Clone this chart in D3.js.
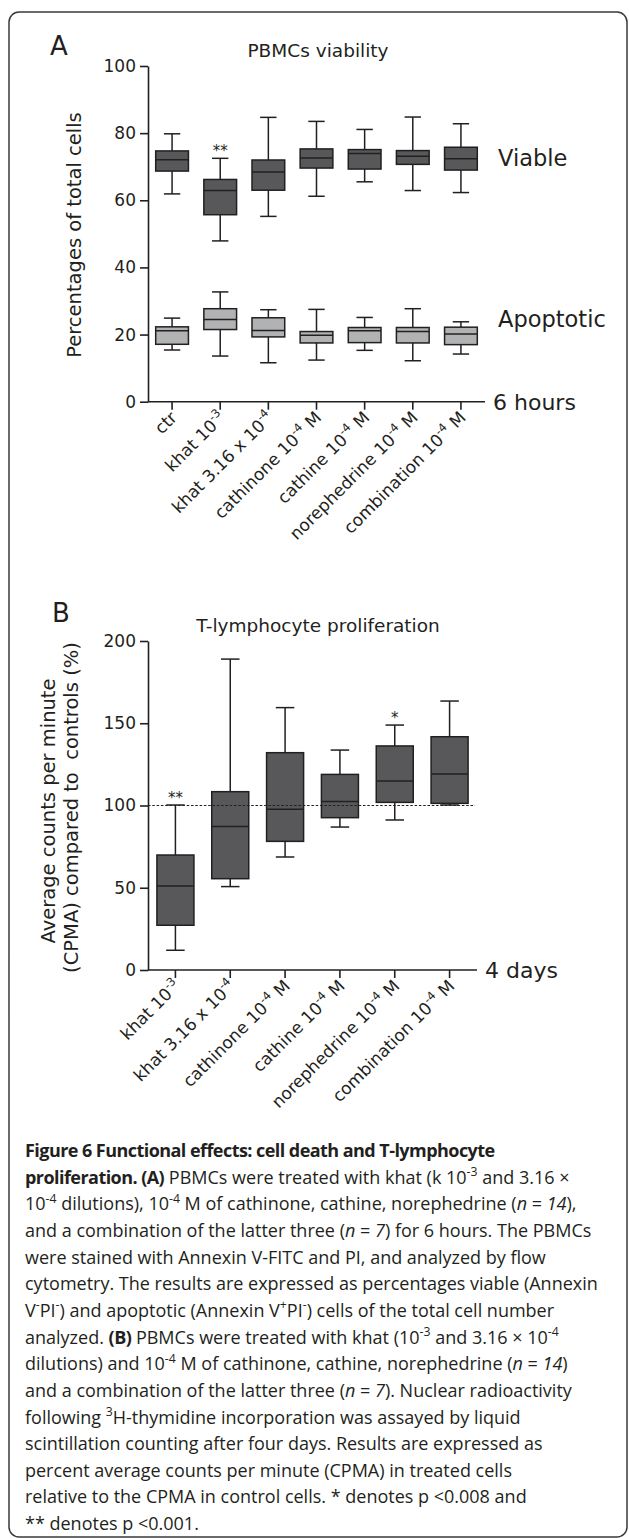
<!DOCTYPE html>
<html>
<head>
<meta charset="utf-8">
<script src="https://cdn.jsdelivr.net/npm/d3@7"></script>
<style>
  body { margin: 0; background: #fff; }
  svg { display: block; }
</style>
</head>
<body>
<svg id="fig"></svg>
<script>
const W = 629, H = 1538;
const ink = "#231f20";
const chartFont = "'DejaVu Sans', sans-serif";
const captionFont = "'Open Sans', sans-serif";

// categories ({s:..} = superscript)
const groupsA = ["ctr", "khat 10{s:-3}", "khat 3.16 x 10{s:-4}", "cathinone 10{s:-4} M",
  "cathine 10{s:-4} M", "norephedrine 10{s:-4} M", "combination 10{s:-4} M"];
const groupsB = groupsA.slice(1);

// box values: [min, q1, median, q3, max]
const viable = [
  [61.9, 68.7, 72.1, 74.7, 79.8],
  [47.9, 55.7, 62.9, 66.2, 72.5],
  [55.2, 63.0, 68.4, 72.0, 84.7],
  [61.2, 69.6, 72.6, 75.3, 83.5],
  [65.5, 69.3, 73.9, 75.1, 81.1],
  [62.9, 70.7, 73.1, 74.8, 84.8],
  [62.3, 69.0, 72.4, 75.8, 82.8]
];
const apoptotic = [
  [15.4, 17.1, 21.1, 22.3, 24.9],
  [13.6, 21.5, 24.5, 27.7, 32.7],
  [11.6, 19.3, 21.2, 25.0, 27.4],
  [12.4, 17.5, 19.8, 20.9, 27.5],
  [15.3, 17.6, 21.1, 22.1, 25.1],
  [12.2, 17.5, 20.9, 22.1, 27.7],
  [14.2, 17.0, 20.2, 22.2, 23.8]
];
const prolif = [
  [12.0, 27.2, 51.1, 69.9, 100.3],
  [50.7, 55.5, 87.3, 108.4, 189.0],
  [68.7, 78.2, 97.7, 132.1, 159.5],
  [86.9, 92.6, 102.5, 118.9, 133.7],
  [91.2, 101.9, 114.9, 136.2, 148.9],
  [100.3, 101.3, 119.1, 141.8, 163.5]
];
const sigA = ["", "**", "", "", "", "", ""];
const sigB = ["**", "", "", "", "*", ""];
const ticksA = [0, 20, 40, 60, 80, 100];
const ticksB = [0, 50, 100, 150, 200];

const captionLines = [
  "{b:Figure 6 Functional effects: cell death and T-lymphocyte}",
  "{b:proliferation. (A)} PBMCs were treated with khat (k 10{s:-3} and 3.16 ×",
  "10{s:-4} dilutions), 10{s:-4} M of cathinone, cathine, norephedrine ({i:n} = {i:14}),",
  "and a combination of the latter three ({i:n} = {i:7}) for 6 hours. The PBMCs",
  "were stained with Annexin V-FITC and PI, and analyzed by flow",
  "cytometry. The results are expressed as percentages viable (Annexin",
  "V{s:-}PI{s:-}) and apoptotic (Annexin V{s:+}PI{s:-}) cells of the total cell number",
  "analyzed. {b:(B)} PBMCs were treated with khat (10{s:-3} and 3.16 × 10{s:-4}",
  "dilutions) and 10{s:-4} M of cathinone, cathine, norephedrine ({i:n} = {i:14})",
  "and a combination of the latter three ({i:n} = {i:7}). Nuclear radioactivity",
  "following {s:3}H-thymidine incorporation was assayed by liquid",
  "scintillation counting after four days. Results are expressed as",
  "percent average counts per minute (CPMA) in treated cells",
  "relative to the CPMA in control cells. * denotes p <0.008 and",
  "** denotes p <0.001."
];

const svg = d3.select("#fig").attr("width", W).attr("height", H);

// frame
svg.append("rect")
  .attr("x", 9).attr("y", 12)
  .attr("width", 618).attr("height", 1525)
  .attr("rx", 10)
  .attr("fill", "none")
  .attr("stroke", "#3a3a3a")
  .attr("stroke-width", 1.5);

// text with {b:}, {i:}, {s:} markup
function rich(sel, str, fs, boldSpacing) {
  const re = /\{([bis]):([^}]*)\}|([^{]+)/g;
  let m, raised = false;
  while ((m = re.exec(str))) {
    const kind = m[1] || "n";
    const t = sel.append("tspan").text(m[1] ? m[2] : m[3]);
    if (kind === "s") {
      t.attr("dy", raised ? 0 : -0.42 * fs).style("font-size", (0.68 * fs) + "px");
      raised = true;
    } else {
      if (raised) { t.attr("dy", 0.42 * fs); raised = false; }
      if (kind === "b") {
        t.style("font-weight", "bold");
        if (boldSpacing) t.style("letter-spacing", boldSpacing + "px");
      }
      if (kind === "i") t.style("font-style", "italic");
    }
  }
}

function panel(cfg) {
  const g = svg.append("g").style("font-family", chartFont).attr("fill", ink);

  const x = d3.scaleBand().domain(cfg.groups).range(cfg.xr)
    .paddingInner(cfg.pad).paddingOuter(cfg.pad / 2);
  const y = d3.scaleLinear().domain(cfg.domain).range(cfg.yr);
  const bw = x.bandwidth();

  // y axis
  const ya = g.append("g")
    .attr("transform", `translate(${cfg.xr[0]},0)`)
    .call(d3.axisLeft(y).tickValues(cfg.ticks).tickSize(8).tickSizeOuter(0).tickPadding(4));
  ya.selectAll("text").style("font-size", "17px").style("font-family", chartFont).attr("fill", ink);

  // x axis
  const xa = g.append("g")
    .attr("transform", `translate(0,${cfg.yr[0]})`)
    .call(d3.axisBottom(x).tickSize(8).tickSizeOuter(0));
  xa.selectAll(".tick text").remove();
  xa.selectAll(".tick").append("text")
    .attr("transform", "translate(6,17) rotate(-45)")
    .attr("text-anchor", "end")
    .attr("fill", ink)
    .style("font-size", "17px")
    .style("font-family", chartFont)
    .each(function (d) { rich(d3.select(this), d, 17); });

  [ya, xa].forEach(a => {
    a.select(".domain").attr("stroke", ink).attr("stroke-width", 1.6);
    a.selectAll(".tick line").attr("stroke", ink).attr("stroke-width", 1.6);
  });
  xa.select(".domain").attr("d", `M${cfg.xr[0]},0H${cfg.xr[1]}`);

  // boxes
  cfg.series.forEach(s => {
    const bx = g.append("g").selectAll("g").data(s.data).join("g")
      .attr("transform", (d, i) => `translate(${x(cfg.groups[i]) + bw / 2},0)`);
    bx.append("line")
      .attr("y1", d => y(d[0])).attr("y2", d => y(d[4]))
      .attr("stroke", ink).attr("stroke-width", 1.5);
    [0, 4].forEach(k => {
      bx.append("line")
        .attr("x1", -bw / 4).attr("x2", bw / 4)
        .attr("y1", d => y(d[k])).attr("y2", d => y(d[k]))
        .attr("stroke", ink).attr("stroke-width", 1.5);
    });
    bx.append("rect")
      .attr("x", -bw / 2).attr("width", bw)
      .attr("y", d => y(d[3])).attr("height", d => y(d[1]) - y(d[3]))
      .attr("fill", s.fill).attr("stroke", ink).attr("stroke-width", 1.5);
    bx.append("line")
      .attr("x1", -bw / 2).attr("x2", bw / 2)
      .attr("y1", d => y(d[2])).attr("y2", d => y(d[2]))
      .attr("stroke", ink).attr("stroke-width", 1.5);
    if (s.label) {
      g.append("text")
        .attr("x", cfg.xr[1] + 13)
        .attr("y", y(s.labelAt))
        .style("font-size", "22.5px")
        .text(s.label);
    }
    if (s.sig) {
      bx.append("text")
        .attr("text-anchor", "middle")
        .attr("y", d => y(d[4]) - 2.5)
        .style("font-size", "15px")
        .text((d, i) => s.sig[i]);
    }
  });

  // reference line
  if (cfg.ref != null) {
    g.append("line")
      .attr("x1", cfg.xr[0]).attr("x2", cfg.xr[1] - 2)
      .attr("y1", y(cfg.ref)).attr("y2", y(cfg.ref))
      .attr("stroke", ink).attr("stroke-width", 1.2)
      .attr("stroke-dasharray", "2.5,1.8");
  }

  // titles and labels
  g.append("text").attr("x", cfg.letterPos[0]).attr("y", cfg.letterPos[1])
    .style("font-size", "26px").text(cfg.letter);
  g.append("text").attr("x", 318).attr("y", cfg.titleY)
    .attr("text-anchor", "middle").style("font-size", "18.5px").text(cfg.title);
  g.append("text").attr("x", cfg.xr[1] + 8).attr("y", cfg.yr[0] + 8)
    .style("font-size", "22px").text(cfg.time);
  cfg.ylabel.forEach((t, j) => {
    g.append("text")
      .attr("transform", `translate(${cfg.ylabelX[j]},${cfg.ylabelY[j]}) rotate(-90)`)
      .attr("text-anchor", "middle")
      .style("font-size", "19.5px")
      .style("white-space", "pre")
      .text(t);
  });
}

panel({
  groups: groupsA, xr: [148, 485], yr: [401.7, 66], domain: [0, 100], ticks: ticksA, pad: 0.32,
  series: [
    { data: viable, fill: "#58585a", label: "Viable", labelAt: 70.2, sig: sigA },
    { data: apoptotic, fill: "#b1b2b4", label: "Apoptotic", labelAt: 22.25 }
  ],
  letter: "A", letterPos: [50, 55], title: "PBMCs viability", titleY: 57, time: "6 hours",
  ylabel: ["Percentages of total cells"], ylabelX: [81], ylabelY: [235]
});

panel({
  groups: groupsB, xr: [148, 477], yr: [970, 641], domain: [0, 200], ticks: ticksB, pad: 0.325,
  series: [{ data: prolif, fill: "#58585a", sig: sigB }],
  ref: 100,
  letter: "B", letterPos: [52, 622], title: "T-lymphocyte proliferation", titleY: 632, time: "4 days",
  ylabel: ["Average counts per minute", "(CPMA) compared to  controls (%)"],
  ylabelX: [54.5, 78], ylabelY: [811, 807.5]
});

// caption
const cap = svg.append("g")
  .style("font-family", captionFont)
  .style("font-size", "18px")
  .attr("fill", ink);
captionLines.forEach((line, i) => {
  const t = cap.append("text")
    .attr("x", 25)
    .attr("y", 1157 + i * 26.65)
    .style("white-space", "pre");
  rich(t, line, 18, -0.55);
});
</script>
</body>
</html>
